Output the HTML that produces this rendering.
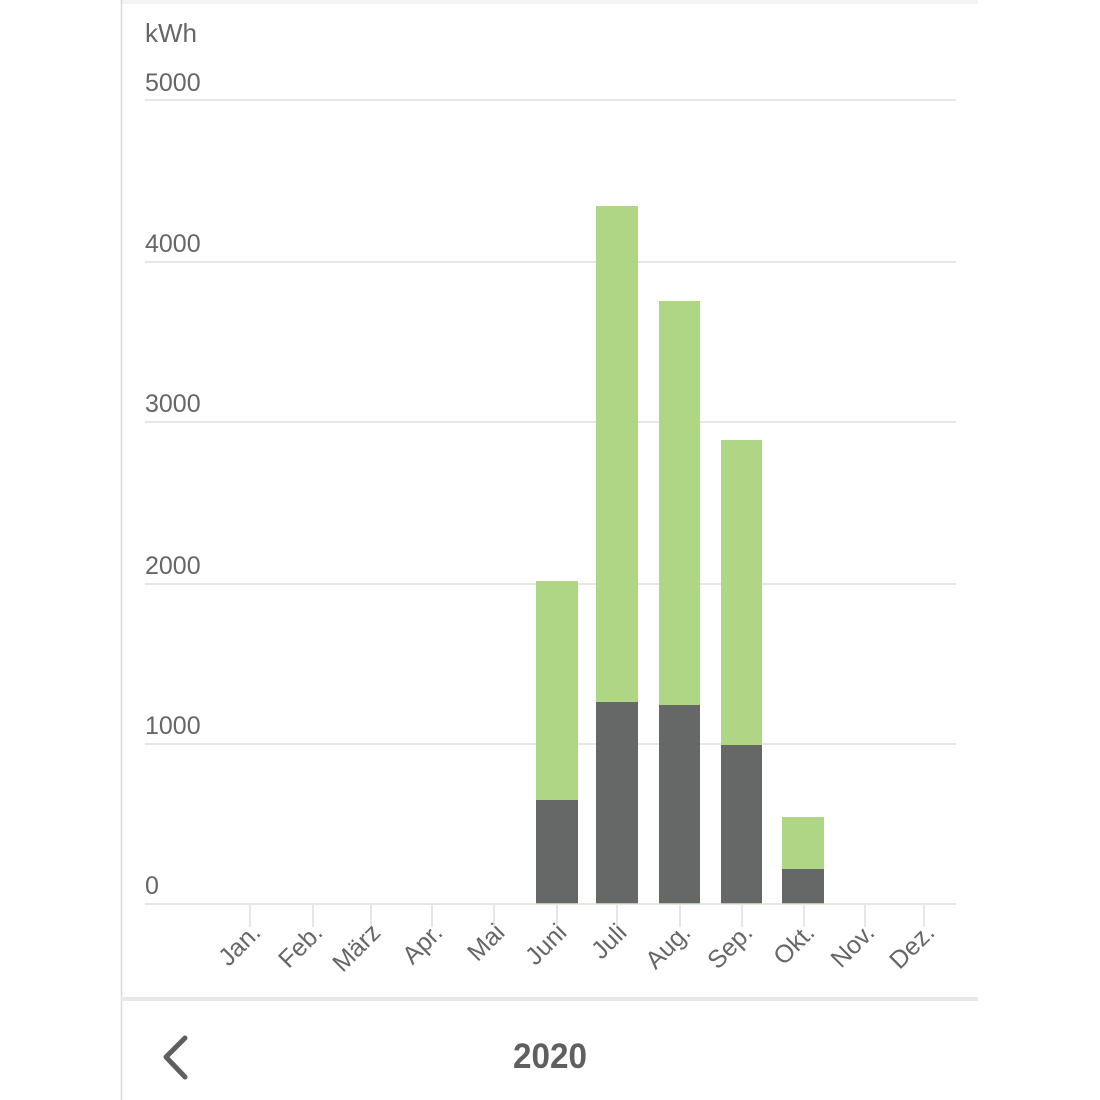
<!DOCTYPE html>
<html><head><meta charset="utf-8"><style>
body{margin:0;background:#fff;}
svg{display:block;font-family:"Liberation Sans",sans-serif;}
</style></head><body>
<svg width="1100" height="1100" viewBox="0 0 1100 1100">
<rect x="121" y="0" width="857" height="4" fill="#f4f4f4"/>
<line x1="121.5" y1="0" x2="121.5" y2="1100" stroke="#d8d8d8" stroke-width="1.5"/>
<text x="145" y="42" font-size="26" fill="#666">kWh</text>
<g stroke="#e6e6e6" stroke-width="2">
<line x1="145" y1="100" x2="956" y2="100"/>
<line x1="145" y1="262" x2="956" y2="262"/>
<line x1="145" y1="422" x2="956" y2="422"/>
<line x1="145" y1="584" x2="956" y2="584"/>
<line x1="145" y1="744" x2="956" y2="744"/>
<line x1="145" y1="904" x2="956" y2="904"/>
</g>
<g font-size="25" fill="#666">
<text x="145" y="91">5000</text>
<text x="145" y="252">4000</text>
<text x="145" y="412">3000</text>
<text x="145" y="574">2000</text>
<text x="145" y="734">1000</text>
<text x="145" y="894">0</text>
</g>
<g stroke="#e6e6e6" stroke-width="2">
<line x1="250" y1="904" x2="250" y2="927"/><line x1="313" y1="904" x2="313" y2="927"/>
<line x1="371" y1="904" x2="371" y2="927"/><line x1="432" y1="904" x2="432" y2="927"/>
<line x1="494" y1="904" x2="494" y2="927"/><line x1="557" y1="904" x2="557" y2="927"/>
<line x1="617" y1="904" x2="617" y2="927"/><line x1="680" y1="904" x2="680" y2="927"/>
<line x1="742" y1="904" x2="742" y2="927"/><line x1="804" y1="904" x2="804" y2="927"/>
<line x1="865" y1="904" x2="865" y2="927"/><line x1="924" y1="904" x2="924" y2="927"/>
</g>
<g fill="#aed685">
<rect x="536" y="581" width="42" height="323"/>
<rect x="596" y="206" width="42" height="698"/>
<rect x="659" y="301" width="41" height="603"/>
<rect x="721" y="440" width="41" height="464"/>
<rect x="782" y="817" width="42" height="87"/>
</g>
<g fill="#666767">
<rect x="536" y="800" width="42" height="103"/>
<rect x="596" y="702" width="42" height="201"/>
<rect x="659" y="705" width="41" height="198"/>
<rect x="721" y="745" width="41" height="158"/>
<rect x="782" y="869" width="42" height="34"/>
</g>
<g font-size="25" fill="#666" text-anchor="end">
<text transform="translate(262,934) rotate(-45)">Jan.</text>
<text transform="translate(324,934) rotate(-45)">Feb.</text>
<text transform="translate(382,934) rotate(-45)">März</text>
<text transform="translate(444,934) rotate(-45)">Apr.</text>
<text transform="translate(506,934) rotate(-45)">Mai</text>
<text transform="translate(568,934) rotate(-45)">Juni</text>
<text transform="translate(628,934) rotate(-45)">Juli</text>
<text transform="translate(692,934) rotate(-45)">Aug.</text>
<text transform="translate(754,934) rotate(-45)">Sep.</text>
<text transform="translate(816,934) rotate(-45)">Okt.</text>
<text transform="translate(876,934) rotate(-45)">Nov.</text>
<text transform="translate(936,934) rotate(-45)">Dez.</text>
</g>
<rect x="121" y="997" width="857" height="4" fill="#e8e8e8"/>
<polyline points="185,1038 166,1057 185,1077" fill="none" stroke="#5f5f5f" stroke-width="5" stroke-linecap="round" stroke-linejoin="round"/>
<text x="550" y="1068" font-size="35" font-weight="bold" fill="#5f5f5f" text-anchor="middle" transform="translate(550,0) scale(0.95,1) translate(-550,0)">2020</text>
</svg>
</body></html>
